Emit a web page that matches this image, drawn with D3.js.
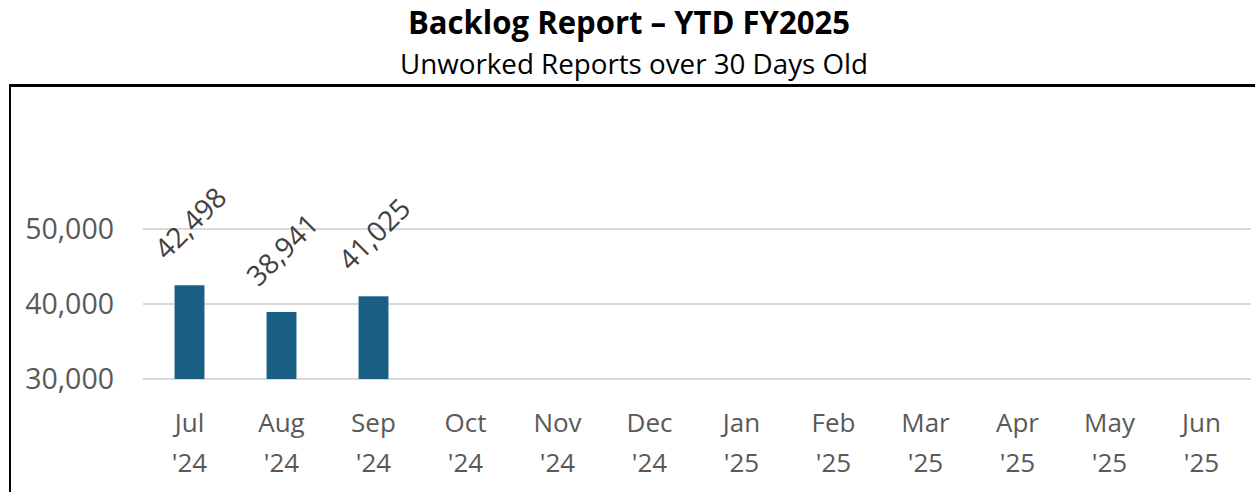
<!DOCTYPE html>
<html>
<head>
<meta charset="utf-8">
<script src="https://cdn.jsdelivr.net/npm/d3@7"></script>
<style>
  body { margin: 0; background: #fff; }
  svg { display: block; }
</style>
</head>
<body>
<script>
// chart data
var months = ["Jul", "Aug", "Sep", "Oct", "Nov", "Dec", "Jan", "Feb", "Mar", "Apr", "May", "Jun"];
var years = ["'24", "'24", "'24", "'24", "'24", "'24", "'25", "'25", "'25", "'25", "'25", "'25"];
var backlog = [42498, 38941, 41025, null, null, null, null, null, null, null, null, null];
var yTicks = [30000, 40000, 50000];

var width = 1255;
var height = 492;

var svg = d3.select("body").append("svg")
    .attr("width", width)
    .attr("height", height);

// frame lines (top and left)
svg.append("line")
    .attr("x1", 10).attr("x2", width)
    .attr("y1", 85.5).attr("y2", 85.5)
    .attr("stroke", "#000").attr("stroke-width", 3);
svg.append("line")
    .attr("x1", 10).attr("x2", 10)
    .attr("y1", 84).attr("y2", height)
    .attr("stroke", "#000").attr("stroke-width", 2);

// titles
svg.append("text")
    .attr("x", 629).attr("y", 34)
    .attr("text-anchor", "middle")
    .attr("font-family", "'Open Sans', sans-serif")
    .attr("font-weight", "bold")
    .attr("font-size", 32)
    .attr("textLength", 442)
    .attr("lengthAdjust", "spacingAndGlyphs")
    .attr("fill", "#000")
    .text("Backlog Report – YTD FY2025");

svg.append("text")
    .attr("x", 634).attr("y", 74)
    .attr("text-anchor", "middle")
    .attr("font-family", "'Open Sans', sans-serif")
    .attr("font-size", 27)
    .attr("textLength", 468)
    .attr("lengthAdjust", "spacingAndGlyphs")
    .attr("fill", "#000")
    .text("Unworked Reports over 30 Days Old");

// scales
var xScale = d3.scaleBand()
    .domain(months)
    .range([143.5, 1247.5])
    .paddingInner(0.675)
    .paddingOuter(0.3375);

var yScale = d3.scaleLinear()
    .domain([30000, 50000])
    .range([379, 229]);

// gridlines
svg.append("g")
    .selectAll("line")
    .data(yTicks)
    .enter().append("line")
    .attr("x1", 143).attr("x2", 1251)
    .attr("y1", function (d) { return yScale(d); })
    .attr("y2", function (d) { return yScale(d); })
    .attr("stroke", "#d9d9d9")
    .attr("stroke-width", 2);

// y axis labels
var yAxis = d3.axisLeft(yScale)
    .tickValues(yTicks)
    .tickFormat(d3.format(","))
    .tickSize(0)
    .tickPadding(0);

var yAxisGroup = svg.append("g")
    .attr("transform", "translate(114,0)")
    .call(yAxis);
yAxisGroup.select(".domain").remove();
yAxisGroup.selectAll("text")
    .attr("font-family", "'Open Sans', sans-serif")
    .attr("font-size", 28.5)
    .attr("fill", "#595959")
    .attr("dy", "0.35em");

// bars
var values = months.map(function (m, i) { return { month: m, year: years[i], value: backlog[i] }; });
var withData = values.filter(function (d) { return d.value != null; });

svg.append("g")
    .selectAll("rect")
    .data(withData)
    .enter().append("rect")
    .attr("x", function (d) { return xScale(d.month); })
    .attr("width", xScale.bandwidth())
    .attr("y", function (d) { return yScale(d.value); })
    .attr("height", function (d) { return yScale(30000) - yScale(d.value); })
    .attr("fill", "#185f83");

// rotated value labels
svg.append("g")
    .selectAll("text")
    .data(withData)
    .enter().append("text")
    .attr("transform", function (d) {
        var cx = xScale(d.month) + xScale.bandwidth() / 2 + 1;
        var cy = yScale(d.value) - 62;
        return "translate(" + cx + "," + cy + ") rotate(-45)";
    })
    .attr("text-anchor", "middle")
    .attr("dy", "0.35em")
    .attr("font-family", "'Open Sans', sans-serif")
    .attr("font-size", 28)
    .attr("fill", "#404040")
    .text(function (d) { return d3.format(",")(d.value); });

// x axis labels (two lines)
var xLabels = svg.append("g")
    .selectAll("text")
    .data(values)
    .enter().append("text")
    .attr("x", function (d) { return xScale(d.month) + xScale.bandwidth() / 2; })
    .attr("y", 432)
    .attr("text-anchor", "middle")
    .attr("font-family", "'Open Sans', sans-serif")
    .attr("font-size", 26)
    .attr("fill", "#595959");

xLabels.append("tspan")
    .attr("x", function (d) { return xScale(d.month) + xScale.bandwidth() / 2; })
    .text(function (d) { return d.month; });
xLabels.append("tspan")
    .attr("x", function (d) { return xScale(d.month) + xScale.bandwidth() / 2; })
    .attr("dy", 40)
    .text(function (d) { return d.year; });
</script>
</body>
</html>
